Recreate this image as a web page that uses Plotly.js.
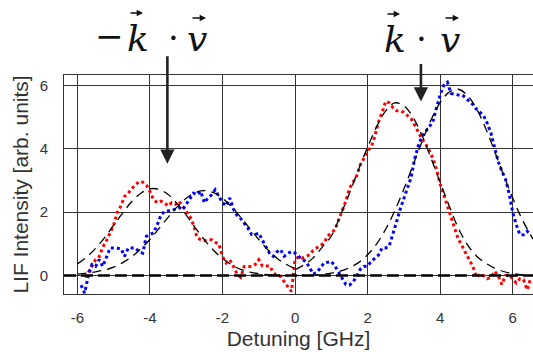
<!DOCTYPE html>
<html>
<head>
<meta charset="utf-8">
<script src="https://cdn.plot.ly/plotly-3.0.1.min.js"></script>
<style>html,body{margin:0;padding:0;background:#fff;}#chart{width:533px;height:352px;}</style>
</head>
<body>
<div id="chart"></div>
<script>
const redX = [-5.8,-5.7,-5.6,-5.5,-5.4,-5.3,-5.2,-5.1,-5.0,-4.9,-4.8,-4.7,-4.6,-4.5,-4.4,-4.3,-4.2,-4.1,-4.0,-3.9,-3.8,-3.7,-3.6,-3.5,-3.4,-3.3,-3.2,-3.1,-3.0,-2.9,-2.8,-2.7,-2.6,-2.5,-2.4,-2.3,-2.2,-2.1,-2.0,-1.9,-1.8,-1.7,-1.6,-1.5,-1.4,-1.3,-1.2,-1.1,-1.0,-0.9,-0.8,-0.7,-0.6,-0.5,-0.4,-0.3,-0.2,-0.1,0.0,0.1,0.2,0.3,0.4,0.5,0.6,0.7,0.8,0.9,1.0,1.1,1.2,1.3,1.4,1.5,1.6,1.7,1.8,1.9,2.0,2.1,2.2,2.3,2.4,2.5,2.6,2.7,2.8,2.9,3.0,3.1,3.2,3.3,3.4,3.5,3.6,3.7,3.8,3.9,4.0,4.1,4.2,4.3,4.4,4.5,4.6,4.7,4.8,4.9,5.0,5.1,5.2,5.3,5.4,5.5,5.6,5.7,5.8,5.9,6.0,6.1,6.2,6.3,6.4,6.5];
const redY = [-0.05,0.1,0.3,0.5,0.6,0.9,1.1,1.35,1.6,2.0,2.2,2.5,2.6,2.75,2.85,2.97,2.95,2.85,2.65,2.4,2.3,2.35,2.3,2.2,2.3,2.25,2.35,2.2,2.05,1.87,1.6,1.2,1.13,1.1,1.13,1.13,1.05,1.0,0.6,0.4,0.5,0.3,0.05,-0.05,0.29,0.3,0.29,0.35,0.5,0.3,0.29,0.3,0.1,0.0,-0.02,-0.2,-0.35,-0.5,0.5,0.6,0.55,0.6,0.66,0.8,0.87,0.95,1.03,1.25,1.35,1.45,1.75,2.05,2.35,2.75,2.95,3.15,3.5,3.7,3.95,4.05,4.4,4.85,5.15,5.5,5.45,5.3,5.2,5.2,5.15,5.05,4.95,4.75,4.5,4.3,4.15,3.95,3.7,3.35,2.9,2.55,2.2,1.85,1.5,1.15,0.95,0.7,0.5,0.3,-0.05,0.05,0.0,-0.1,-0.05,0.14,0.0,-0.28,0.0,0.03,-0.1,-0.23,-0.1,-0.13,-0.45,-0.07];
const blueX = [-5.9,-5.8,-5.7,-5.6,-5.5,-5.4,-5.3,-5.2,-5.1,-5.0,-4.9,-4.8,-4.7,-4.6,-4.5,-4.4,-4.3,-4.2,-4.1,-4.0,-3.9,-3.8,-3.7,-3.6,-3.5,-3.4,-3.3,-3.2,-3.1,-3.0,-2.9,-2.8,-2.7,-2.6,-2.5,-2.4,-2.3,-2.2,-2.1,-2.0,-1.9,-1.8,-1.7,-1.6,-1.5,-1.4,-1.3,-1.2,-1.1,-1.0,-0.9,-0.8,-0.7,-0.6,-0.5,-0.4,-0.3,-0.2,-0.1,0.0,0.1,0.2,0.3,0.4,0.5,0.6,0.7,0.8,0.9,1.0,1.1,1.2,1.3,1.4,1.5,1.6,1.7,1.8,1.9,2.0,2.1,2.2,2.3,2.4,2.5,2.6,2.7,2.8,2.9,3.0,3.1,3.2,3.3,3.4,3.5,3.6,3.7,3.8,3.9,4.0,4.1,4.2,4.3,4.4,4.5,4.6,4.7,4.8,4.9,5.0,5.1,5.2,5.3,5.4,5.5,5.6,5.7,5.8,5.9,6.0,6.1,6.2,6.3,6.4,6.5];
const blueY = [-0.3,-0.55,0.0,0.35,0.29,0.5,0.29,0.6,0.87,0.87,0.87,0.85,0.61,0.87,0.87,0.87,0.75,0.71,1.24,1.29,1.35,1.6,1.9,2.03,2.03,2.05,2.1,2.15,2.08,2.25,2.4,2.6,2.55,2.66,2.3,2.45,2.55,2.71,2.5,2.3,2.2,2.45,2.1,1.9,1.8,1.65,1.5,1.3,1.3,1.34,1.1,0.9,0.7,0.61,0.75,0.82,0.61,0.7,0.76,0.71,0.61,0.5,0.45,0.24,0.05,0.1,0.25,0.4,0.42,0.45,0.3,0.1,-0.07,-0.28,-0.3,-0.2,-0.02,0.2,0.29,0.3,0.45,0.55,0.65,0.87,0.87,0.95,1.3,1.7,2.1,2.45,2.8,3.1,3.7,4.1,4.4,4.55,4.7,4.85,5.3,5.7,6.0,6.1,5.75,5.72,5.7,5.7,5.62,5.5,5.4,5.25,5.15,5.05,4.8,4.5,4.05,3.6,3.3,3.05,2.6,2.0,1.6,1.29,1.29,1.4,1.29];

// Fitted curves (dashed)
const fitXL = [-6.0,-5.75,-5.5,-5.25,-5.0,-4.75,-4.5,-4.25,-4.0,-3.75,-3.5,-3.25,-3.0,-2.75,-2.5,-2.25,-2.0,-1.75,-1.5,-1.25,-1.0,-0.75,-0.5,-0.25,0.0];
const redFitL = [0.37,0.58,0.86,1.2,1.59,1.98,2.34,2.6,2.74,2.72,2.56,2.27,1.91,1.51,1.13,0.8,0.54,0.34,0.2,0.11,0.06,0.03,0.01,0.0,0.0];
const blueFitL = [0.05,0.08,0.12,0.18,0.27,0.41,0.6,0.85,1.14,1.49,1.84,2.17,2.44,2.62,2.68,2.62,2.44,2.17,1.84,1.49,1.14,0.82,0.55,0.36,0.22];
const fitXR = [0.0,0.25,0.5,0.75,1.0,1.25,1.5,1.75,2.0,2.25,2.5,2.75,3.0,3.25,3.5,3.75,4.0,4.25,4.5,4.75,5.0,5.25,5.5,5.75,6.0,6.25,6.5,6.6];
const redFitR = [0.19,0.34,0.56,0.9,1.25,1.9,2.6,3.35,4.05,4.7,5.2,5.45,5.36,5.0,4.42,3.7,2.94,2.2,1.5,0.98,0.62,0.4,0.24,0.13,0.07,0.03,0.01,0.01];
const blueFitR = [0.0,0.01,0.02,0.04,0.08,0.14,0.25,0.41,0.66,1.0,1.47,2.05,2.73,3.48,4.23,4.92,5.46,5.79,5.88,5.69,5.27,4.66,3.93,3.17,2.45,1.8,1.27,1.09];

const xTicks = [-6,-4,-2,0,2,4,6];
const yTicks = [0,2,4,6];
const xTitle = 'Detuning [GHz]';
const yTitle = 'LIF Intensity [arb. units]';

// math label glyphs: [text, pixel-x centre, pixel-y centre, size]
const mathGlyphs = [
  ['\u2212', 109, 36, 34], ['<i>k</i>', 138, 38, 36], ['\u00B7', 173, 38, 34], ['<i>v</i>', 197, 38, 36],
  ['<i>k</i>', 395, 39, 36], ['\u00B7', 421, 39, 34], ['<i>v</i>', 450, 39, 36]
];
// small vector arrows over k and v: [tip pixel-x, pixel-y, length]
const vecArrows = [[143, 13, 14], [206, 18, 15], [400, 14, 14], [459, 18, 15]];
const W = 533, H = 352, ML = 64, MR = 0, MT = 75, MB = 58;
const pw = W - ML - MR, ph = H - MT - MB;

const fitLine = {color:'#000', width:1.3, dash:'9px,6px', shape:'spline'};
const traces = [
  {x:redX, y:redY, mode:'lines', line:{color:'#ff0000', width:3, dash:'dot'}},
  {x:blueX, y:blueY, mode:'lines', line:{color:'#0000ff', width:3, dash:'dot'}},
  {x:fitXL, y:redFitL, mode:'lines', line:fitLine},
  {x:fitXL, y:blueFitL, mode:'lines', line:fitLine},
  {x:fitXR, y:redFitR, mode:'lines', line:fitLine},
  {x:fitXR, y:blueFitR, mode:'lines', line:fitLine}
];

const sans = 'Liberation Sans, Arial, sans-serif';
const tickFont = {family:sans, size:15, color:'#333'};
const annotations = mathGlyphs.map(g => ({
  xref:'paper', yref:'paper', x:(g[1]-ML)/pw, y:(H-MB-g[2])/ph, xanchor:'center', yanchor:'middle',
  text:g[0], showarrow:false, font:{family:'DejaVu Serif, serif', size:g[3], color:'#111'}
}));
vecArrows.forEach(a => annotations.push({
  xref:'paper', yref:'paper', x:(a[0]-ML)/pw, y:(H-MB-a[1])/ph, text:'', showarrow:true,
  ax:-a[2], ay:0, arrowhead:2, arrowsize:0.9, arrowwidth:1.4, arrowcolor:'#111'
}));
annotations.push(
  {xref:'x', yref:'y', x:-3.52, y:3.53, text:'', showarrow:true, ax:0, ay:-109, arrowhead:2, arrowsize:1.1, arrowwidth:2.6, arrowcolor:'#222'},
  {xref:'x', yref:'y', x:3.47, y:5.49, text:'', showarrow:true, ax:0, ay:-39, arrowhead:2, arrowsize:1.1, arrowwidth:2.6, arrowcolor:'#222'}
);

const layout = {
  width:W, height:H,
  margin:{l:ML, r:MR, t:MT, b:MB, pad:0},
  paper_bgcolor:'#fff', plot_bgcolor:'#fff',
  showlegend:false,
  xaxis:{
    range:[-6.37, 6.56], tickvals:xTicks, ticktext:xTicks.map(String),
    showgrid:true, gridcolor:'#333', gridwidth:1, zeroline:false,
    showline:true, linecolor:'#333', linewidth:1, mirror:true,
    ticks:'outside', ticklen:10, tickcolor:'rgba(0,0,0,0)',
    tickfont:tickFont,
    title:{text:xTitle, font:{family:sans, size:21, color:'#333'}, standoff:6},
    automargin:false
  },
  yaxis:{
    range:[-0.58, 6.33], tickvals:yTicks, ticktext:yTicks.map(String),
    showgrid:true, gridcolor:'#333', gridwidth:1, zeroline:false,
    showline:true, linecolor:'#333', linewidth:1, mirror:true,
    ticks:'outside', ticklen:12, tickcolor:'rgba(0,0,0,0)',
    tickfont:tickFont,
    title:{text:yTitle, font:{family:sans, size:21, color:'#333'}, standoff:5},
    automargin:false
  },
  shapes:[
    {type:'line', xref:'paper', yref:'y', x0:0, x1:1, y0:0, y1:0, line:{color:'#000', width:2.5, dash:'12px,5px'}}
  ],
  annotations:annotations
};
Plotly.newPlot('chart', traces, layout, {staticPlot:true, displayModeBar:false});
</script>
</body>
</html>
